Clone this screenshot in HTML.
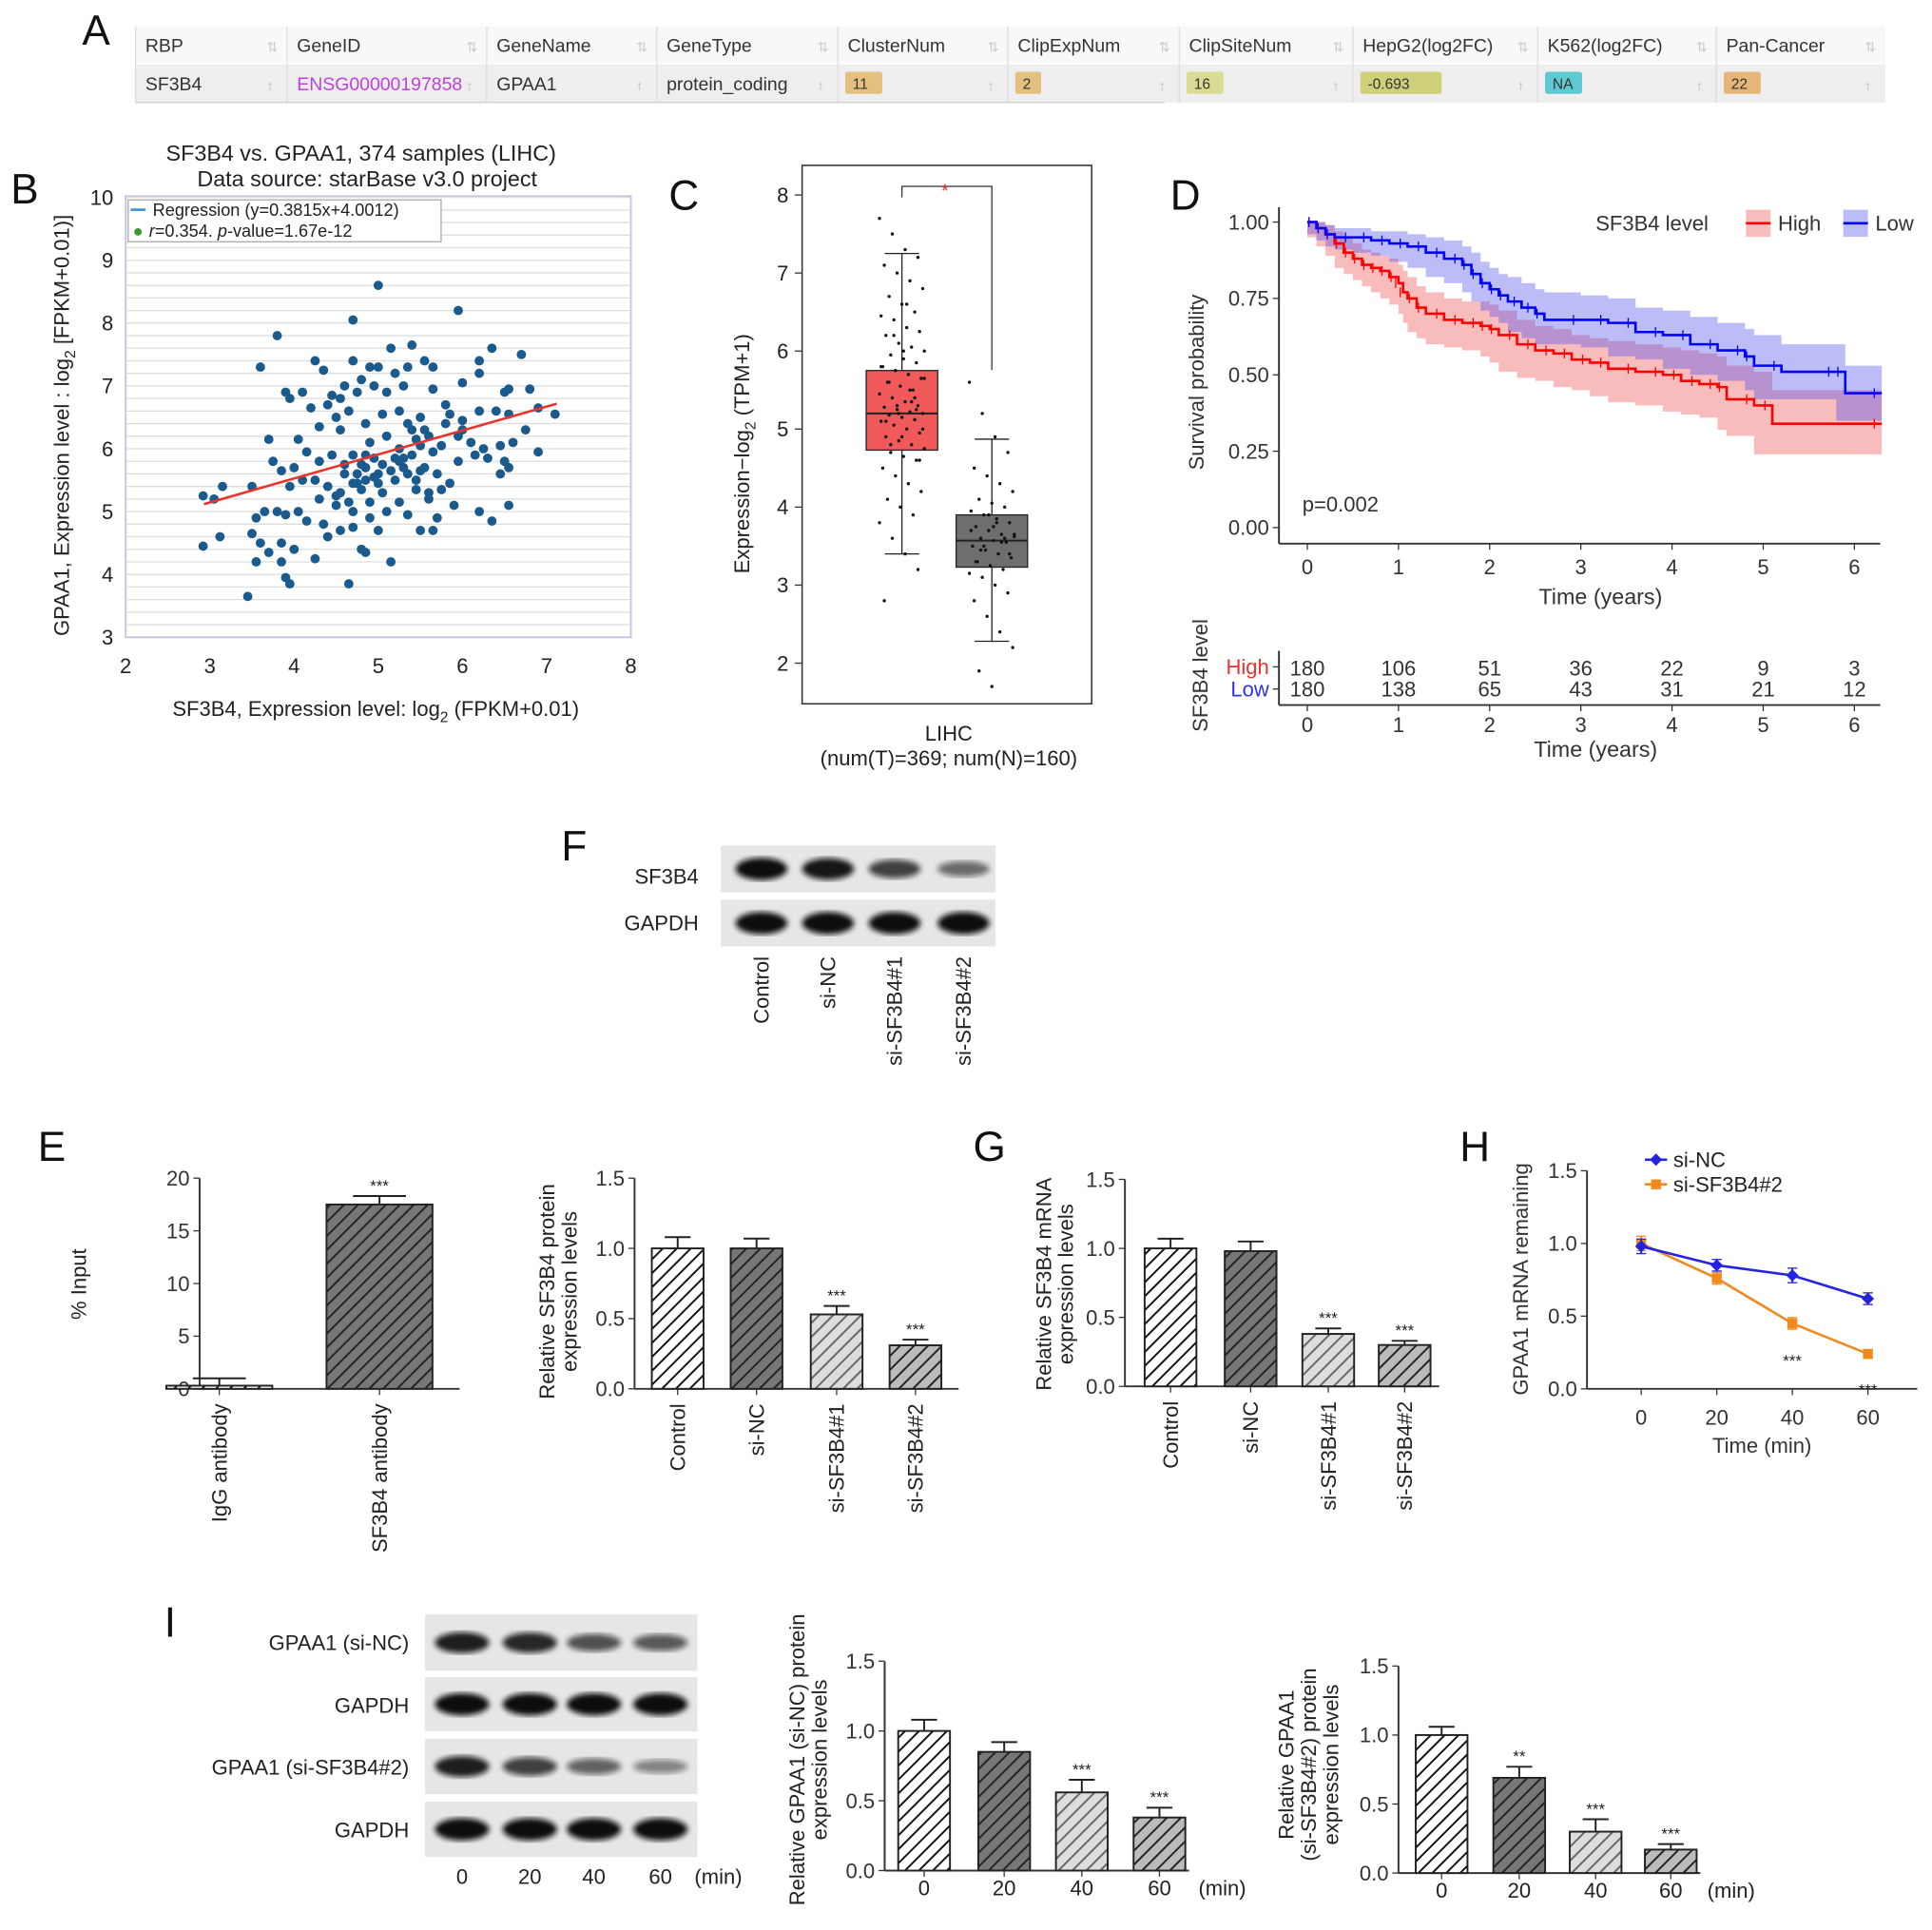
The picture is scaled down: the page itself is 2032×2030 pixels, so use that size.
<!DOCTYPE html>
<html><head><meta charset="utf-8">
<style>
html,body{margin:0;padding:0;background:#fff;}
svg{display:block;font-family:"Liberation Sans",Arial,sans-serif;}
</style></head>
<body>
<svg id="fig" width="2032" height="2030" viewBox="0 0 1568 1566" xmlns="http://www.w3.org/2000/svg">
<defs>
 <pattern id="hWhite" patternUnits="userSpaceOnUse" width="8" height="8" patternTransform="rotate(45)"><rect width="8" height="8" fill="#fff"/><line x1="0" y1="0" x2="0" y2="8" stroke="#111" stroke-width="3"/></pattern>
 <pattern id="hDark" patternUnits="userSpaceOnUse" width="8" height="8" patternTransform="rotate(45)"><rect width="8" height="8" fill="#777"/><line x1="0" y1="0" x2="0" y2="8" stroke="#222" stroke-width="3"/></pattern>
 <pattern id="hLight" patternUnits="userSpaceOnUse" width="8" height="8" patternTransform="rotate(45)"><rect width="8" height="8" fill="#ddd"/><line x1="0" y1="0" x2="0" y2="8" stroke="#666" stroke-width="3"/></pattern>
 <pattern id="hMid" patternUnits="userSpaceOnUse" width="8" height="8" patternTransform="rotate(45)"><rect width="8" height="8" fill="#bbb"/><line x1="0" y1="0" x2="0" y2="8" stroke="#222" stroke-width="3"/></pattern>
 <filter id="blur"><feGaussianBlur stdDeviation="2.2"/></filter>
</defs>
<g id="root"></g>
</svg>
<script>
// ---------- DATA ----------
const tableHeaders=["RBP","GeneID","GeneName","GeneType","ClusterNum","ClipExpNum","ClipSiteNum","HepG2(log2FC)","K562(log2FC)","Pan-Cancer"];
const tableValues=["SF3B4","ENSG00000197858","GPAA1","protein_coding","11","2","16","-0.693","NA","22"];

const scatterX=[5.0,5.95,4.7,3.8,5.4,5.15,6.35,6.7,3.6,4.25,4.35,4.7,4.9,5.0,5.2,5.35,5.55,5.65,6.0,6.2,6.2,4.8,4.6,4.45,3.9,4.1,3.95,4.4,4.55,4.75,4.95,5.1,5.3,5.65,6.5,6.55,6.8,6.9,7.1,6.4,6.55,6.2,6.0,5.85,5.8,5.5,5.35,5.25,5.05,4.65,4.5,4.2,4.3,3.7,4.05,4.55,4.85,5.1,5.4,5.6,5.75,5.95,6.1,6.25,6.45,6.6,6.75,6.9,6.5,6.55,6.45,6.3,6.15,5.95,5.85,5.7,5.55,5.4,5.3,5.2,5.0,4.95,4.8,4.7,4.6,4.45,4.3,4.15,4.0,3.85,3.75,4.1,4.25,4.4,4.55,4.7,4.85,5.05,5.25,5.45,5.6,5.75,5.9,3.05,2.92,3.15,3.5,3.55,3.65,3.8,3.9,4.05,4.15,4.35,4.55,4.7,4.9,5.1,5.35,5.5,5.7,5.65,6.2,6.35,6.55,2.92,3.12,3.5,3.6,3.7,3.85,4.0,4.25,3.55,3.85,3.9,3.95,3.45,4.65,5.15,4.85,4.8,4.4,5.0,4.65,4.9,5.2,5.5,5.25,4.9,4.75,4.85,5.55,5.45,6.0,3.95,4.3,4.5,5.45,5.65,4.75,4.85,4.95,5.05,5.15,5.25,5.35,4.6,4.8,5.0,5.5,5.6,5.8,4.5,4.7,5.3];
const scatterY=[8.6,8.2,8.05,7.8,7.65,7.6,7.6,7.5,7.3,7.4,7.25,7.4,7.3,7.3,7.2,7.3,7.4,7.3,7.05,7.4,7.2,7.1,7.0,6.85,6.9,6.9,6.8,6.7,6.8,6.9,7.0,6.9,7.0,6.95,6.9,6.95,6.95,6.65,6.55,6.6,6.55,6.6,6.45,6.55,6.7,6.5,6.4,6.6,6.55,6.6,6.5,6.65,6.35,6.15,6.15,6.3,6.4,6.2,6.3,6.2,6.05,6.2,6.1,6.0,6.05,6.1,6.3,5.95,5.8,5.7,5.6,5.85,5.9,5.8,5.45,5.6,5.7,5.9,5.7,5.5,5.6,5.85,5.75,5.9,5.6,5.9,5.8,5.95,5.7,5.65,5.8,5.5,5.5,5.4,5.3,5.45,5.5,5.3,5.15,5.35,5.3,5.35,5.1,5.2,5.25,5.4,5.4,4.9,5.0,5.0,4.95,5.0,4.85,4.8,4.7,4.75,4.9,5.0,4.95,4.7,4.9,4.7,5.0,4.85,5.1,4.45,4.6,4.65,4.5,4.35,4.5,4.4,4.25,4.2,4.2,3.95,3.85,3.65,3.85,4.2,4.35,4.4,4.6,4.7,5.15,5.15,5.85,6.05,6.0,6.1,5.6,5.9,6.3,6.15,6.3,5.4,5.2,5.1,5.5,5.95,5.45,5.7,5.55,5.75,5.65,5.8,5.6,5.75,5.35,5.45,5.65,5.2,6.4,5.25,5.0,5.85];
const regSlope=0.3815, regIntercept=4.0012;

const tumorVals=[7.7,7.5,7.3,7.2,7.1,7.0,6.9,6.8,6.7,6.6,6.5,6.45,6.4,6.3,6.25,6.2,6.1,6.05,6.0,5.95,5.9,5.85,5.8,5.75,5.7,5.65,5.6,5.55,5.5,5.45,5.4,5.35,5.3,5.28,5.25,5.22,5.2,5.18,5.15,5.12,5.1,5.05,5.0,4.95,4.9,4.85,4.8,4.75,4.7,4.65,4.6,4.5,4.4,4.3,4.2,4.1,4.0,3.9,3.8,3.6,3.4,3.2,2.8,5.3,5.5,5.0,5.6,4.9,5.4,5.8,6.2,6.6,4.6,5.1,5.2,5.35,5.65,4.8,6.0,5.25];
const normalVals=[5.6,5.2,4.9,4.7,4.5,4.4,4.3,4.2,4.1,4.05,4.0,3.95,3.9,3.85,3.8,3.75,3.7,3.65,3.62,3.6,3.57,3.55,3.5,3.45,3.4,3.35,3.3,3.25,3.2,3.15,3.1,3.0,2.9,2.8,2.6,2.4,2.2,1.9,1.7,3.6,3.7,3.5,3.8,3.4,3.3,3.9,3.55,3.65,3.45,3.75];
const tumorBox={min:3.4,q1:4.73,med:5.2,q3:5.75,max:7.25};
const normalBox={min:2.28,q1:3.23,med:3.57,q3:3.9,max:4.87};

const kmHighT=[0,0.1,0.2,0.3,0.4,0.5,0.6,0.7,0.8,0.9,1.0,1.05,1.1,1.2,1.3,1.5,1.7,1.9,2.0,2.1,2.3,2.5,2.7,2.9,3.1,3.3,3.6,3.9,4.1,4.3,4.5,4.6,4.9,5.1,6.3];
const kmHighS=[1.0,0.98,0.96,0.93,0.90,0.88,0.86,0.85,0.84,0.82,0.80,0.77,0.75,0.72,0.70,0.68,0.67,0.66,0.65,0.63,0.60,0.58,0.57,0.55,0.54,0.52,0.51,0.50,0.48,0.47,0.46,0.42,0.40,0.34,0.34];
const kmHighLo=[1.0,0.95,0.92,0.89,0.85,0.83,0.81,0.79,0.77,0.75,0.73,0.70,0.67,0.64,0.62,0.60,0.59,0.58,0.56,0.54,0.51,0.49,0.48,0.46,0.45,0.43,0.41,0.40,0.38,0.37,0.36,0.32,0.30,0.24,0.24];
const kmHighHi=[1.0,1.0,0.99,0.97,0.95,0.93,0.91,0.90,0.89,0.88,0.86,0.84,0.82,0.79,0.77,0.75,0.74,0.74,0.73,0.71,0.68,0.66,0.65,0.63,0.62,0.61,0.60,0.59,0.58,0.57,0.56,0.53,0.51,0.45,0.45];
const kmLowT=[0,0.1,0.2,0.3,0.5,0.7,0.9,1.1,1.3,1.5,1.7,1.8,1.9,2.0,2.1,2.2,2.35,2.5,2.6,3.0,3.3,3.6,3.9,4.2,4.5,4.8,4.9,5.2,5.8,5.9,6.3];
const kmLowS=[1.0,0.98,0.96,0.95,0.95,0.94,0.93,0.92,0.90,0.88,0.86,0.83,0.80,0.78,0.76,0.74,0.72,0.70,0.68,0.68,0.67,0.64,0.63,0.60,0.58,0.56,0.53,0.51,0.51,0.44,0.44];
const kmLowLo=[1.0,0.96,0.94,0.92,0.91,0.90,0.89,0.87,0.85,0.82,0.80,0.77,0.74,0.71,0.69,0.67,0.64,0.62,0.60,0.60,0.59,0.56,0.55,0.52,0.50,0.48,0.45,0.42,0.42,0.35,0.35];
const kmLowHi=[1.0,1.0,0.99,0.98,0.98,0.97,0.97,0.96,0.95,0.94,0.92,0.90,0.87,0.85,0.83,0.82,0.80,0.78,0.77,0.76,0.75,0.72,0.71,0.69,0.67,0.65,0.63,0.60,0.60,0.53,0.53];
const riskYears=[0,1,2,3,4,5,6];
const riskHigh=[180,106,51,36,22,9,3];
const riskLow=[180,138,65,43,31,21,12];

const blotFLanes=["Control","si-NC","si-SF3B4#1","si-SF3B4#2"];
const blotFSF3B4=[1.0,0.95,0.7,0.45];
const blotFGAPDH=[1.0,1.0,1.0,1.0];

const eCats=["IgG antibody","SF3B4 antibody"];
const eVals=[0.3,17.5];
const eErrs=[0.7,0.8];
const eTicks=[0,5,10,15,20];

const siCats=["Control","si-NC","si-SF3B4#1","si-SF3B4#2"];
const protVals=[1.0,1.0,0.53,0.31];
const protErrs=[0.08,0.07,0.06,0.04];
const protSig=["","","***","***"];
const mrnaVals=[1.0,0.98,0.38,0.30];
const mrnaErrs=[0.07,0.07,0.04,0.03];
const mrnaSig=["","","***","***"];
const ratioTicks=[0,0.5,1.0,1.5];

const hTimes=[0,20,40,60];
const hNC=[0.98,0.85,0.78,0.62];
const hNCerr=[0.05,0.04,0.05,0.04];
const hSi=[1.0,0.76,0.45,0.24];
const hSierr=[0.05,0.04,0.04,0.03];
const hSig=["","","***","***"];

const iTimes=["0","20","40","60"];
const iBlotNC=[0.9,0.85,0.6,0.55];
const iBlotSi=[0.9,0.7,0.5,0.3];
const iVals1=[1.0,0.85,0.56,0.38];
const iErrs1=[0.08,0.07,0.09,0.07];
const iSig1=["","","***","***"];
const iVals2=[1.0,0.69,0.30,0.17];
const iErrs2=[0.06,0.08,0.09,0.04];
const iSig2=["","**","***","***"];

// ---------- HELPERS ----------
const NS="http://www.w3.org/2000/svg";
const root=document.getElementById('root');
function el(tag,attrs,parent){const e=document.createElementNS(NS,tag);for(const k in attrs)e.setAttribute(k,attrs[k]);(parent||root).appendChild(e);return e;}
function txt(x,y,s,size,opt,parent){opt=opt||{};const t=el('text',{x:x,y:y,'font-size':size,fill:opt.fill||'#222','text-anchor':opt.anchor||'middle'},parent);if(opt.rot)t.setAttribute('transform','rotate('+opt.rot+' '+x+' '+y+')');if(opt.weight)t.setAttribute('font-weight',opt.weight);if(opt.style)t.setAttribute('font-style',opt.style);t.textContent=s;return t;}
function group(name){const g=el('g',{});return g;}

// ---------- PANEL A ----------
(function(){
 const g=group('panel-a-table');
 const lbl=txt(78,36,'A',34,{fill:'#111'},g);
 
 
 const cols=[110,233,395,533,680,818,957,1098,1248,1393,1530];
 const badge={4:'#e3c07e',5:'#e3c07e',6:'#d9dc92',7:'#cfd07a',8:'#5ec8d3',9:'#e5b677'};
 el('rect',{x:110,y:21,width:1420,height:30,fill:'#f8f8f8'},g);
 el('rect',{x:110,y:52,width:1420,height:31,fill:'#eeeeee'},g);
 el('line',{x1:110,y1:83,x2:945,y2:83,stroke:'#ccc'},g);
 for(let i=0;i<tableHeaders.length;i++){
  const x0=cols[i],x1=cols[i+1];
  el('line',{x1:x0,y1:21,x2:x0,y2:83,stroke:'#ddd'},g);
  const h=txt(x0+8,42,tableHeaders[i],15,{anchor:'start',fill:'#333'},g);
  
  
  txt(x1-12,42,'⇅',11,{fill:'#ccc'},g);
  if(badge[i]){
   const w=tableValues[i].length*9+12;
   el('rect',{x:x0+6,y:58,width:w,height:18,fill:badge[i],rx:2},g);
   txt(x0+12,72,tableValues[i],12,{anchor:'start',fill:'#333'},g);
  } else {
   const c=txt(x0+8,73,tableValues[i],15,{anchor:'start',fill:i===1?'#c040e0':'#333'},g);
   
   
  }
  txt(x1-14,73,'↑',11,{fill:'#bbb'},g);
 }
})();

// ---------- PANEL B ----------
(function(){
 const g=group('panel-b-scatter');
 const bx=v=>102+(v-2)*68.33, by=v=>517-(v-3)*51;
 txt(20,165,'B',34,{fill:'#111'},g);
 txt(293,130,'SF3B4 vs. GPAA1, 374 samples (LIHC)',18,{},g);
 txt(298,151,'Data source: starBase v3.0 project',18,{},g);
 el('rect',{x:102,y:159,width:410,height:358,fill:'#fff',stroke:'#c9c4e0','stroke-width':1.5},g);
 for(let v=3.2;v<10;v+=0.2){el('line',{x1:103,x2:511,y1:by(v),y2:by(v),stroke:'#ddd','stroke-width':1},g);}
 for(let v=3;v<=10;v++){const t=txt(92,by(v)+6,String(v),17,{anchor:'end'},g);}
 for(let v=2;v<=8;v++){const t=txt(bx(v),546,String(v),17,{},g);}
 for(let i=0;i<scatterX.length;i++){
  const c=el('circle',{cx:bx(scatterX[i]),cy:by(scatterY[i]),r:3.8,fill:'#1b5a8c'},g);
  
  
 }
 const rl=el('line',{x1:bx(2.93),y1:by(regSlope*2.93+regIntercept),x2:bx(7.12),y2:by(regSlope*7.12+regIntercept),stroke:'#e8342c','stroke-width':2},g);
 
 
 const lg=el('g',{},g);
 
 
 el('rect',{x:104,y:162,width:254,height:34,fill:'#fff',stroke:'#aaa'},lg);
 el('line',{x1:106,x2:118,y1:170,y2:170,stroke:'#3b8fd0','stroke-width':2},lg);
 txt(124,175,'Regression (y=0.3815x+4.0012)',14,{anchor:'start'},lg);
 el('circle',{cx:112,cy:188,r:3,fill:'#3a9a2a'},lg);
 const t2=txt(121,192,'',14,{anchor:'start'},lg);
 t2.innerHTML='<tspan font-style="italic">r</tspan>=0.354. <tspan font-style="italic">p</tspan>-value=1.67e-12';
 const xl=txt(305,581,'',17,{},g);
 xl.innerHTML='SF3B4, Expression level: log<tspan font-size="12" dy="5">2</tspan><tspan dy="-5"> (FPKM+0.01)</tspan>';
 
 const yl=txt(56,345,'',17,{rot:-90},g);
 yl.innerHTML='GPAA1, Expression level : log<tspan font-size="12" dy="5">2</tspan><tspan dy="-5"> [FPKM+0.01)]</tspan>';
 
})();

// ---------- PANEL C ----------
(function(){
 const g=group('panel-c-boxplot');
 const cy=v=>538-(v-2)*63.33;
 txt(555,170,'C',34,{fill:'#111'},g);
 el('rect',{x:651,y:134,width:235,height:437,fill:'#fff',stroke:'#333','stroke-width':1.2},g);
 for(let v=2;v<=8;v++){el('line',{x1:645,x2:651,y1:cy(v),y2:cy(v),stroke:'#333'},g);const t=txt(640,cy(v)+6,String(v),17,{anchor:'end'},g);}
 function box(b,cx,fill,vals,name){
  const bg=el('g',{},g);
  
  
  el('line',{x1:cx,x2:cx,y1:cy(b.max),y2:cy(b.min),stroke:'#222'},bg);
  el('line',{x1:cx-14,x2:cx+14,y1:cy(b.max),y2:cy(b.max),stroke:'#222'},bg);
  el('line',{x1:cx-14,x2:cx+14,y1:cy(b.min),y2:cy(b.min),stroke:'#222'},bg);
  el('rect',{x:cx-29,y:cy(b.q3),width:58,height:cy(b.q1)-cy(b.q3),fill:fill,stroke:'#222'},bg);
  el('line',{x1:cx-29,x2:cx+29,y1:cy(b.med),y2:cy(b.med),stroke:'#222','stroke-width':1.5},bg);
  for(let i=0;i<vals.length;i++){
   const j=((i*37)%29-14)*1.3;
   const p=el('circle',{cx:cx+j,cy:cy(vals[i]),r:1.3,fill:'#111'},bg);
   
   
  }
 }
 box(tumorBox,732,'#f05a5a',tumorVals,'tumor-box');
 box(normalBox,805,'#6e6e6e',normalVals,'normal-box');
 el('polyline',{points:'732,160 732,151 805,151 805,300',fill:'none',stroke:'#333'},g);
 txt(767,160,'*',16,{fill:'#e33'},g);
 txt(770,601,'LIHC',17,{},g);
 txt(770,621,'(num(T)=369; num(N)=160)',17,{},g);
 const yl=txt(608,368,'',17,{rot:-90},g);
 yl.innerHTML='Expression−log<tspan font-size="12" dy="5">2</tspan><tspan dy="-5"> (TPM+1)</tspan>';
 
})();

// ---------- PANEL D ----------
(function(){
 const g=group('panel-d-km');
 const dx=t=>1061+t*74, dy=s=>428-s*248;
 txt(962,170,'D',34,{fill:'#111'},g);
 function stepPath(T,S){let d='M'+dx(T[0])+','+dy(S[0]);for(let i=1;i<T.length;i++){d+=' H'+dx(T[i])+' V'+dy(S[i]);}return d;}
 function band(T,L,H){let d='M'+dx(T[0])+','+dy(H[0]);for(let i=1;i<T.length;i++){d+=' H'+dx(T[i])+' V'+dy(H[i]);}for(let i=T.length-1;i>=0;i--){d+=' V'+dy(L[i])+' H'+dx(i>0?T[i-1]:T[0]);}return d+'Z';}
 const b1=el('path',{d:band(kmHighT,kmHighLo,kmHighHi),fill:'rgba(240,80,80,0.38)'},g);
 
 
 const b2=el('path',{d:band(kmLowT,kmLowLo,kmLowHi),fill:'rgba(80,80,240,0.38)'},g);
 
 
 const l1=el('path',{d:stepPath(kmHighT,kmHighS),fill:'none',stroke:'#f00','stroke-width':2},g);
 
 
 const l2=el('path',{d:stepPath(kmLowT,kmLowS),fill:'none',stroke:'#00f','stroke-width':2},g);
 
 
 for(let i=1;i<kmHighT.length;i++){el('line',{x1:dx(kmHighT[i])-6,x2:dx(kmHighT[i])-6,y1:dy(kmHighS[i-1])-4,y2:dy(kmHighS[i-1])+4,stroke:'#f00'},g);}
 for(let i=1;i<kmLowT.length;i++){el('line',{x1:dx(kmLowT[i])-6,x2:dx(kmLowT[i])-6,y1:dy(kmLowS[i-1])-4,y2:dy(kmLowS[i-1])+4,stroke:'#00f'},g);}
 el('line',{x1:1038,x2:1038,y1:168,y2:441,stroke:'#333','stroke-width':1.5},g);
 el('line',{x1:1038,x2:1526,y1:441,y2:441,stroke:'#333','stroke-width':1.5},g);
 [0,0.25,0.5,0.75,1].forEach(v=>{el('line',{x1:1033,x2:1038,y1:dy(v),y2:dy(v),stroke:'#333'},g);const t=txt(1030,dy(v)+6,v.toFixed(2),17,{anchor:'end',fill:'#333'},g);});
 riskYears.forEach(v=>{el('line',{x1:dx(v),x2:dx(v),y1:441,y2:446,stroke:'#333'},g);const t=txt(dx(v),466,String(v),17,{fill:'#333'},g);});
 txt(1299,490,'Time (years)',18,{fill:'#333'},g);
 txt(977,310,'Survival probability',17,{rot:-90,fill:'#333'},g);
 txt(1057,415,'p=0.002',17,{anchor:'start',fill:'#333'},g);
 const lg=el('g',{},g);
 
 
 txt(1295,187,'SF3B4 level',17,{anchor:'start',fill:'#333'},lg);
 el('rect',{x:1417,y:170,width:20,height:22,fill:'rgba(240,80,80,0.38)'},lg);
 el('line',{x1:1417,x2:1437,y1:181,y2:181,stroke:'#f00','stroke-width':2},lg);
 txt(1443,187,'High',17,{anchor:'start',fill:'#333'},lg);
 el('rect',{x:1496,y:170,width:20,height:22,fill:'rgba(80,80,240,0.38)'},lg);
 el('line',{x1:1496,x2:1516,y1:181,y2:181,stroke:'#00f','stroke-width':2},lg);
 txt(1522,187,'Low',17,{anchor:'start',fill:'#333'},lg);
 const rt=el('g',{},g);
 
 
 txt(980,548,'SF3B4 level',17,{rot:-90,fill:'#333'},rt);
 txt(1030,547,'High',17,{anchor:'end',fill:'#f03030'},rt);
 txt(1030,565,'Low',17,{anchor:'end',fill:'#3030f0'},rt);
 el('line',{x1:1038,x2:1038,y1:528,y2:572,stroke:'#333','stroke-width':1.5},rt);
 el('line',{x1:1038,x2:1526,y1:572,y2:572,stroke:'#333','stroke-width':1.5},rt);
 el('line',{x1:1033,x2:1038,y1:541,y2:541,stroke:'#333'},rt);
 el('line',{x1:1033,x2:1038,y1:559,y2:559,stroke:'#333'},rt);
 riskYears.forEach((v,i)=>{
  const a=txt(dx(v),548,String(riskHigh[i]),17,{fill:'#333'},rt);
  
  
  const b=txt(dx(v),565,String(riskLow[i]),17,{fill:'#333'},rt);
  
  
  el('line',{x1:dx(v),x2:dx(v),y1:572,y2:577,stroke:'#333'},rt);
  txt(dx(v),594,String(v),17,{fill:'#333'},rt);
 });
 txt(1295,614,'Time (years)',18,{fill:'#333'},rt);
})();

// ---------- BLOT helper ----------
function blotRow(g,x,y,w,h,lanes,intens,bw){
 el('rect',{x:x,y:y,width:w,height:h,fill:'#e6e6e6'},g);
 for(let i=0;i<lanes.length;i++){
  const b=el('ellipse',{cx:lanes[i],cy:y+h/2,rx:bw,ry:4+5*intens[i],fill:'#111','fill-opacity':0.25+0.75*intens[i],filter:'url(#blur)'},g);
  
  
 }
}

// ---------- PANEL F ----------
(function(){
 const g=group('panel-f-western-blot');
 txt(466,698,'F',34,{fill:'#111'},g);
 const lanes=[618,672,726,782];
 blotRow(g,585,686,223,38,lanes,blotFSF3B4,21);
 blotRow(g,585,730,223,38,lanes,blotFGAPDH,21);
 txt(567,717,'SF3B4',17,{anchor:'end'},g);
 txt(567,755,'GAPDH',17,{anchor:'end'},g);
 blotFLanes.forEach((s,i)=>{const t=txt(lanes[i]+6,776,s,17,{anchor:'end',rot:-90},g);});
})();

// ---------- BAR chart helper ----------
const fills=['url(#hWhite)','url(#hDark)','url(#hLight)','url(#hMid)'];
function barChart(opt){
 const g=group(opt.name);
 const y=v=>opt.y0-(v/opt.max)*(opt.y0-opt.ytop);
 el('line',{x1:opt.ax,x2:opt.ax,y1:opt.ytop,y2:opt.y0,stroke:'#333','stroke-width':1.5},g);
 el('line',{x1:opt.ax,x2:opt.axEnd,y1:opt.y0,y2:opt.y0,stroke:'#333','stroke-width':1.5},g);
 opt.ticks.forEach(v=>{el('line',{x1:opt.ax-5,x2:opt.ax,y1:y(v),y2:y(v),stroke:'#333'},g);const t=txt(opt.ax-8,y(v)+6,opt.fmt?opt.fmt(v):String(v),17,{anchor:'end',fill:'#333'},g);});
 for(let i=0;i<opt.vals.length;i++){
  const cx=opt.cx[i],w=opt.bw;
  const top=y(opt.vals[i]+opt.errs[i]);
  el('line',{x1:cx,x2:cx,y1:y(opt.vals[i]),y2:top,stroke:'#222','stroke-width':1.5},g);
  el('line',{x1:cx-w*0.25,x2:cx+w*0.25,y1:top,y2:top,stroke:'#222','stroke-width':1.5},g);
  const r=el('rect',{x:cx-w/2,y:y(opt.vals[i]),width:w,height:opt.y0-y(opt.vals[i]),fill:opt.fills[i],stroke:'#222','stroke-width':1.5},g);
  
  
  if(opt.sig&&opt.sig[i]){const s=txt(cx,top-4,opt.sig[i],13,{fill:'#222'},g);}
  el('line',{x1:cx,x2:cx,y1:opt.y0,y2:opt.y0+5,stroke:'#333'},g);
  if(opt.rotLabels){const t=txt(cx+6,opt.y0+12,opt.cats[i],17,{anchor:'end',rot:-90,fill:'#222'},g);}
  else {const t=txt(cx,opt.y0+20,opt.cats[i],17,{fill:'#222'},g);}
 }
 if(opt.unit) txt(opt.unitX,opt.y0+20,opt.unit,17,{fill:'#222'},g);
 opt.ylab.forEach((s,k)=>{txt(opt.ylx[k],opt.yly,s,17,{rot:-90,fill:'#222'},g);});
 return g;
}
const f1=v=>v.toFixed(1);

(function(){const g=group('panel-e-label');txt(42,942,'E',34,{fill:'#111'},g);})();
barChart({name:'panel-e-chip-chart',ax:162,axEnd:373,y0:1127,ytop:956,max:20,ticks:eTicks,vals:eVals,errs:eErrs,cx:[178,308],bw:86,fills:['url(#hWhite)','url(#hDark)'],cats:eCats,rotLabels:true,sig:['','***'],ylab:['% Input'],ylx:[70],yly:1042});
barChart({name:'panel-e-protein-chart',ax:515,axEnd:778,y0:1127,ytop:956,max:1.5,ticks:ratioTicks,fmt:f1,vals:protVals,errs:protErrs,cx:[550,614,679,743],bw:42,fills:fills,cats:siCats,rotLabels:true,sig:protSig,ylab:['Relative SF3B4 protein','expression levels'],ylx:[450,468],yly:1048});
(function(){const g=group('panel-g-label');txt(803,942,'G',34,{fill:'#111'},g);})();
barChart({name:'panel-g-mrna-chart',ax:913,axEnd:1168,y0:1125,ytop:957,max:1.5,ticks:ratioTicks,fmt:f1,vals:mrnaVals,errs:mrnaErrs,cx:[950,1015,1078,1140],bw:42,fills:fills,cats:siCats,rotLabels:true,sig:mrnaSig,ylab:['Relative SF3B4 mRNA','expression levels'],ylx:[853,871],yly:1042});

// H
(function(){
 const g=group('panel-h-line-chart');
 txt(1197,942,'H',34,{fill:'#111'},g);
 const AX=1288;
 const hx=t=>1332+t*(1516-1332)/60, hy=v=>1127-v*118;
 el('line',{x1:AX,x2:AX,y1:950,y2:1127,stroke:'#333','stroke-width':1.5},g);
 el('line',{x1:AX,x2:1556,y1:1127,y2:1127,stroke:'#333','stroke-width':1.5},g);
 ratioTicks.forEach(v=>{el('line',{x1:AX-5,x2:AX,y1:hy(v),y2:hy(v),stroke:'#333'},g);const t=txt(AX-8,hy(v)+6,v.toFixed(1),17,{anchor:'end',fill:'#333'},g);});
 hTimes.forEach(t=>{el('line',{x1:hx(t),x2:hx(t),y1:1127,y2:1132,stroke:'#333'},g);const l=txt(hx(t),1156,String(t),17,{fill:'#333'},g);});
 txt(1430,1179,'Time (min)',17,{fill:'#333'},g);
 txt(1240,1038,'GPAA1 mRNA remaining',17,{rot:-90,fill:'#333'},g);
 function series(vals,errs,col,name,marker){
  const sg=el('g',{},g);
  
  
  el('polyline',{points:hTimes.map((t,i)=>hx(t)+','+hy(vals[i])).join(' '),fill:'none',stroke:col,'stroke-width':2},sg);
  hTimes.forEach((t,i)=>{
   el('line',{x1:hx(t),x2:hx(t),y1:hy(vals[i]+errs[i]),y2:hy(vals[i]-errs[i]),stroke:col,'stroke-width':1.5},sg);
   el('line',{x1:hx(t)-4,x2:hx(t)+4,y1:hy(vals[i]+errs[i]),y2:hy(vals[i]+errs[i]),stroke:col},sg);
   el('line',{x1:hx(t)-4,x2:hx(t)+4,y1:hy(vals[i]-errs[i]),y2:hy(vals[i]-errs[i]),stroke:col},sg);
   let m;
   if(marker==='d') m=el('path',{d:'M'+hx(t)+','+(hy(vals[i])-5)+' l5,5 l-5,5 l-5,-5z',fill:col},sg);
   else m=el('rect',{x:hx(t)-4,y:hy(vals[i])-4,width:8,height:8,fill:col},sg);
   
   
  });
 }
 series(hSi,hSierr,'#f08a1e','si-sf3b4-2-series','s');
 series(hNC,hNCerr,'#2323e0','si-nc-series','d');
 hTimes.forEach((t,i)=>{if(hSig[i])txt(hx(t),hy(hSi[i]-hSierr[i])+30,hSig[i],13,{},g);});
 const lg=el('g',{},g);
 
 
 el('line',{x1:1335,x2:1353,y1:941,y2:941,stroke:'#2323e0','stroke-width':2},lg);
 el('path',{d:'M1344,936 l5,5 l-5,5 l-5,-5z',fill:'#2323e0'},lg);
 txt(1358,947,'si-NC',17,{anchor:'start'},lg);
 el('line',{x1:1335,x2:1353,y1:961,y2:961,stroke:'#f08a1e','stroke-width':2},lg);
 el('rect',{x:1340,y:957,width:8,height:8,fill:'#f08a1e'},lg);
 txt(1358,967,'si-SF3B4#2',17,{anchor:'start'},lg);
})();

// I
(function(){
 const g=group('panel-i-western-blot');
 txt(138,1328,'I',34,{fill:'#111'},g);
 const lanes=[375,430,482,536];
 const ones=[1,1,1,1];
 blotRow(g,345,1310,221,46,lanes,iBlotNC,22);
 blotRow(g,345,1361,221,44,lanes,ones,22);
 blotRow(g,345,1411,221,45,lanes,iBlotSi,22);
 blotRow(g,345,1462,221,45,lanes,ones,22);
 txt(332,1339,'GPAA1 (si-NC)',17,{anchor:'end'},g);
 txt(332,1390,'GAPDH',17,{anchor:'end'},g);
 txt(332,1440,'GPAA1 (si-SF3B4#2)',17,{anchor:'end'},g);
 txt(332,1491,'GAPDH',17,{anchor:'end'},g);
 iTimes.forEach((s,i)=>txt(lanes[i],1529,s,17,{},g));
 txt(583,1529,'(min)',17,{},g);
})();
barChart({name:'panel-i-si-nc-chart',ax:718,axEnd:965,y0:1518,ytop:1348,max:1.5,ticks:ratioTicks,fmt:f1,vals:iVals1,errs:iErrs1,cx:[750,815,878,941],bw:42,fills:fills,cats:iTimes,rotLabels:false,sig:iSig1,unit:'(min)',unitX:992,ylab:['Relative GPAA1 (si-NC) protein','expression levels'],ylx:[653,671],yly:1428});
barChart({name:'panel-i-si-sf3b4-chart',ax:1135,axEnd:1380,y0:1520,ytop:1352,max:1.5,ticks:ratioTicks,fmt:f1,vals:iVals2,errs:iErrs2,cx:[1170,1233,1295,1356],bw:42,fills:fills,cats:iTimes,rotLabels:false,sig:iSig2,unit:'(min)',unitX:1405,ylab:['Relative GPAA1','(si-SF3B4#2) protein','expression levels'],ylx:[1050,1068,1086],yly:1432});
</script>
</body></html>
